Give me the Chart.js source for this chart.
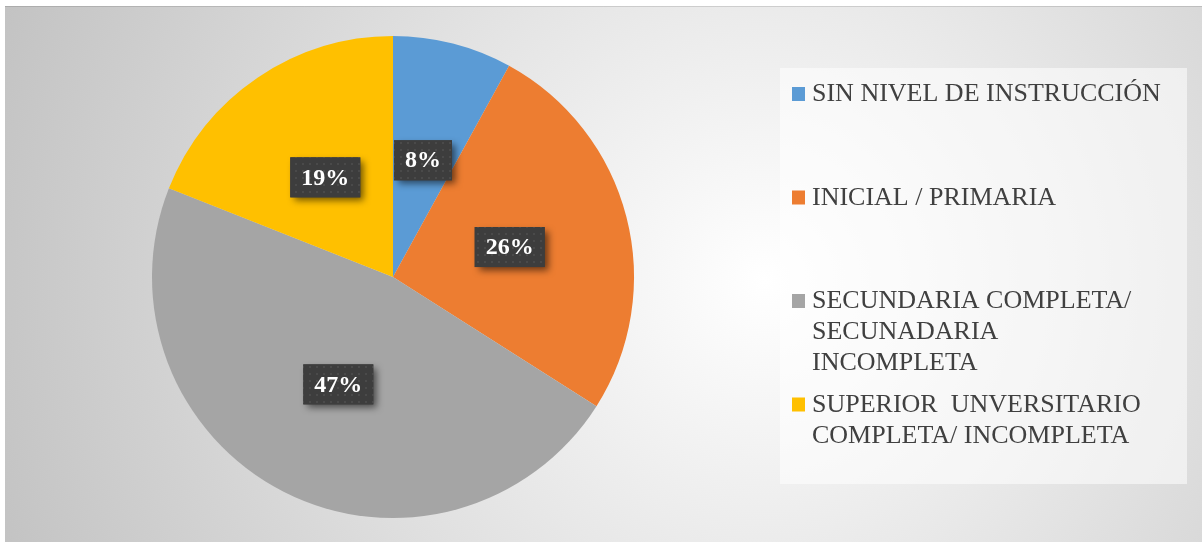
<!DOCTYPE html>
<html>
<head>
<meta charset="utf-8">
<script src="https://cdn.jsdelivr.net/npm/chart.js@4.4.1/dist/chart.umd.min.js"></script>
<style>
    html, body { margin: 0; padding: 0; background: #fff; }
    #wrap { position: absolute; left: 5px; top: 6px; width: 1197px; height: 536px; }
</style>
</head>
<body>
<div id="wrap"><canvas id="pieChart"></canvas></div>
<script>
// Data
const categories = [
    ['SIN NIVEL DE INSTRUCCIÓN'],
    ['INICIAL / PRIMARIA'],
    ['SECUNDARIA COMPLETA/', 'SECUNADARIA', 'INCOMPLETA'],
    ['SUPERIOR  UNVERSITARIO', 'COMPLETA/ INCOMPLETA']
];
const percentages = [8, 26, 47, 19];
const sliceColors = ['#5b9bd5', '#ed7d31', '#a5a5a5', '#ffc000'];

const serif = '"Liberation Serif", "Times New Roman", serif';

// Background: radial grey-to-white gradient
const backgroundPlugin = {
    id: 'bgGradient',
    beforeDraw(chart) {
        const ctx = chart.ctx;
        const w = chart.width, h = chart.height;
        const g = ctx.createRadialGradient(760, 275, 0, 760, 275, 820);
        g.addColorStop(0, '#ffffff');
        g.addColorStop(1, '#c2c2c2');
        ctx.save();
        ctx.fillStyle = g;
        ctx.fillRect(0, 0, w, h);
        ctx.strokeStyle = 'rgba(0,0,0,0.12)';
        ctx.beginPath();
        ctx.moveTo(0, 0.5);
        ctx.lineTo(w, 0.5);
        ctx.stroke();
        ctx.restore();
    }
};

// Dark dotted boxes with the percentages
function dotPattern(ctx) {
    const c = document.createElement('canvas');
    c.width = 7; c.height = 7;
    const p = c.getContext('2d');
    p.fillStyle = '#3d3d3d';
    p.fillRect(0, 0, 7, 7);
    p.fillStyle = 'rgba(255,255,255,0.07)';
    p.fillRect(3, 3, 2, 2);
    return ctx.createPattern(c, 'repeat');
}

const labelBoxPlugin = {
    id: 'labelBoxes',
    afterDatasetsDraw(chart) {
        const ctx = chart.ctx;
        const arcs = chart.getDatasetMeta(0).data;
        const pattern = dotPattern(ctx);
        ctx.save();
        ctx.font = 'bold 24px ' + serif;
        arcs.forEach((arc, i) => {
            const pos = arc.getCenterPoint();
            const text = percentages[i] + '%';
            const tw = ctx.measureText(text).width;
            const bw = tw + 22, bh = 40;
            const x = pos.x - bw / 2, y = pos.y - bh / 2;

            ctx.save();
            ctx.shadowColor = 'rgba(0,0,0,0.55)';
            ctx.shadowBlur = 7;
            ctx.shadowOffsetX = 4;
            ctx.shadowOffsetY = 4;
            ctx.fillStyle = '#3d3d3d';
            ctx.fillRect(x, y, bw, bh);
            ctx.restore();
            ctx.fillStyle = pattern;
            ctx.fillRect(x, y, bw, bh);

            ctx.fillStyle = '#ffffff';
            ctx.textAlign = 'center';
            ctx.textBaseline = 'middle';
            ctx.fillText(text, pos.x, pos.y + 1);
        });
        ctx.restore();
    }
};

// Legend panel on the right
const legendPanelPlugin = {
    id: 'legendPanel',
    afterDraw(chart) {
        const ctx = chart.ctx;
        const box = { x: 775, y: 62, w: 407, h: 416 };
        const firstBaseline = 95;
        const rowStep = 103.5;
        const lineHeight = 31;
        const marker = 13;

        ctx.save();
        ctx.fillStyle = 'rgba(255,255,255,0.55)';
        ctx.fillRect(box.x, box.y, box.w, box.h);

        ctx.font = '26px ' + serif;
        ctx.textAlign = 'left';
        ctx.textBaseline = 'alphabetic';
        chart.data.labels.forEach((lines, i) => {
            const base = firstBaseline + i * rowStep;
            ctx.fillStyle = chart.data.datasets[0].backgroundColor[i];
            ctx.fillRect(787, base - marker - 1, marker, marker + 1);
            ctx.fillStyle = '#404040';
            lines.forEach((line, j) => {
                ctx.fillText(line, 807, base + j * lineHeight);
            });
        });
        ctx.restore();
    }
};

const pieChart = new Chart(document.getElementById('pieChart').getContext('2d'), {
    type: 'pie',
    data: {
        labels: categories,
        datasets: [{
            data: percentages,
            backgroundColor: sliceColors,
            borderWidth: 0
        }]
    },
    options: {
        responsive: true,
        maintainAspectRatio: false,
        animation: false,
        layout: {
            padding: { left: 147, right: 568, top: 30, bottom: 24 }
        },
        plugins: {
            legend: { display: false },
            tooltip: { enabled: false }
        }
    },
    plugins: [backgroundPlugin, labelBoxPlugin, legendPanelPlugin]
});
</script>
</body>
</html>
